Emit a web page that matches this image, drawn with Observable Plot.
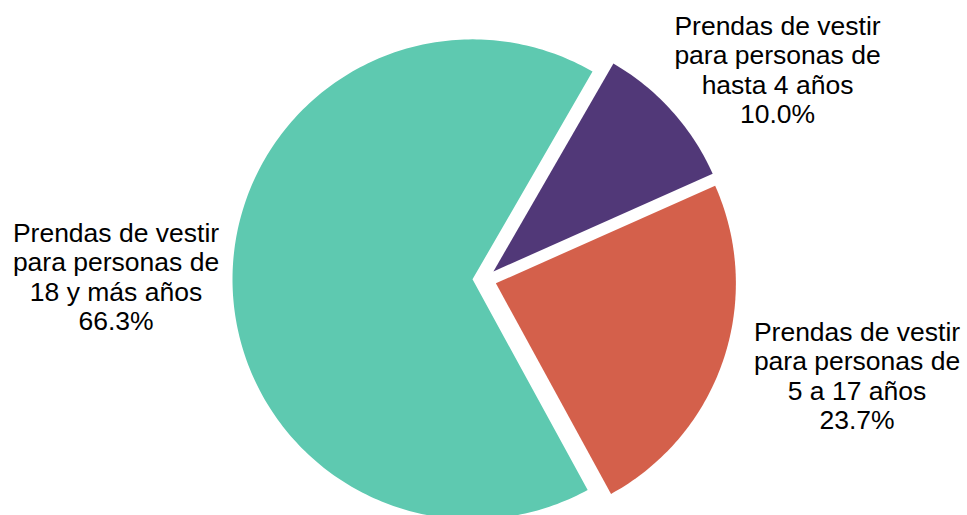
<!DOCTYPE html>
<html>
<head>
<meta charset="utf-8">
<script src="https://cdn.jsdelivr.net/npm/d3@7"></script>
<script src="https://cdn.jsdelivr.net/npm/@observablehq/plot@0.6"></script>
<style>
  html, body { margin: 0; padding: 0; background: #fff; }
  #chart svg { display: block; }
</style>
</head>
<body>
<div id="chart"></div>
<script>
// ---- Data ----
const categories = [
  "Prendas de vestir para personas de hasta 4 años",
  "Prendas de vestir para personas de 5 a 17 años",
  "Prendas de vestir para personas de 18 y más años"
];
const values = [10.0, 23.7, 66.3];
const labelLines = [
  "Prendas de vestir\npara personas de\nhasta 4 años",
  "Prendas de vestir\npara personas de\n5 a 17 años",
  "Prendas de vestir\npara personas de\n18 y más años"
];
const colors = ["#513878", "#d4604b", "#5ec9b0"];

// ---- Layout ----
const W = 967, H = 515;
const center = {x: 484, y: 279};
const radius = 240;
const explode = 12;
const startAngle = 30 * Math.PI / 180; // clockwise from north
const labelAnchors = [
  {x: 777, y: 69},
  {x: 856.5, y: 375},
  {x: 115.5, y: 276}
];

// ---- Geometry from values ----
const total = d3.sum(values);
const points = [];
let a0 = startAngle;
categories.forEach((cat, i) => {
  const span = values[i] / total * 2 * Math.PI;
  const a1 = a0 + span;
  const mid = (a0 + a1) / 2;
  const ox = center.x + explode * Math.sin(mid);
  const oy = center.y - explode * Math.cos(mid);
  points.push({cat, x: ox, y: oy});
  const n = Math.max(8, Math.ceil(span / (Math.PI / 180)));
  for (let k = 0; k <= n; k++) {
    const a = a0 + span * k / n;
    points.push({cat, x: ox + radius * Math.sin(a), y: oy - radius * Math.cos(a)});
  }
  a0 = a1;
});

const labelData = categories.map((cat, i) => ({
  cat,
  x: labelAnchors[i].x,
  y: labelAnchors[i].y,
  text: labelLines[i] + "\n" + values[i].toFixed(1) + "%"
}));

const chart = Plot.plot({
  width: W,
  height: H,
  margin: 0,
  style: {fontFamily: "'Liberation Sans', Arial, sans-serif", background: "#fff"},
  x: {domain: [0, W], range: [0, W], axis: null},
  y: {domain: [0, H], range: [0, H], axis: null},
  color: {domain: categories, range: colors},
  marks: [
    Plot.line(points, {x: "x", y: "y", z: "cat", fill: "cat", stroke: "none", curve: "linear-closed"}),
    Plot.text(labelData, {x: "x", y: "y", text: "text", fontSize: 26.5, lineHeight: 1.115, fill: "#000", textAnchor: "middle"})
  ]
});
document.getElementById("chart").appendChild(chart);
</script>
</body>
</html>
